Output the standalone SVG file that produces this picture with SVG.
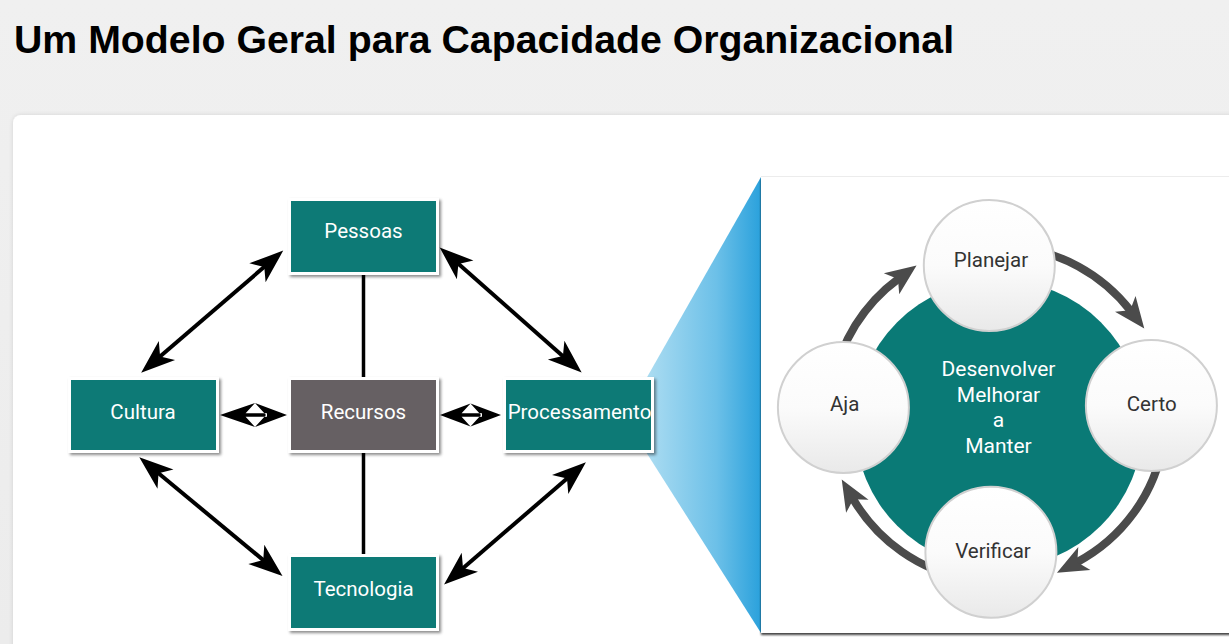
<svg xmlns="http://www.w3.org/2000/svg" width="1229" height="644" viewBox="0 0 1229 644">
<defs>
<style>
.box{stroke:#fff;stroke-width:3;filter:url(#sh)}
.teal{fill:#0a7a76}
.grey{fill:#666163}
.bt{font-family:Roboto,"Liberation Sans",sans-serif;font-size:20.5px;fill:#fff;text-anchor:middle}
.ct{font-family:Roboto,"Liberation Sans",sans-serif;font-size:20.5px;fill:#333;text-anchor:middle}
.mid{font-family:Roboto,"Liberation Sans",sans-serif;font-size:21px;fill:#fff;text-anchor:middle}
.blk{stroke:#000;stroke-width:4;fill:none;marker-start:url(#ah);marker-end:url(#ah)}
.hd{fill:#000}
.vl{stroke:#000;stroke-width:3.5}
.cyc{stroke:#4b4b4b;stroke-width:8;fill:none;marker-end:url(#gh)}
.circ{fill:url(#cg);stroke:#d0d0d0;stroke-width:2}
</style>
<filter id="sh" x="-10%" y="-10%" width="125%" height="130%"><feDropShadow dx="2" dy="2" stdDeviation="1.5" flood-color="#000" flood-opacity="0.45"/></filter>
<filter id="psh" x="-5%" y="-5%" width="110%" height="110%"><feDropShadow dx="0" dy="0" stdDeviation="2" flood-color="#000" flood-opacity="0.12"/></filter>
<filter id="rsh" x="-5%" y="-5%" width="110%" height="110%"><feDropShadow dx="0" dy="2" stdDeviation="1.2" flood-color="#000" flood-opacity="0.75"/></filter>
<linearGradient id="bg" x1="0" y1="0" x2="0" y2="1"><stop offset="0" stop-color="#f0f0f0"/><stop offset="1" stop-color="#ececec"/></linearGradient>
<linearGradient id="blue" gradientUnits="userSpaceOnUse" x1="650" y1="0" x2="761" y2="0"><stop offset="0" stop-color="#a9dbf1"/><stop offset="0.6" stop-color="#6cc0e8"/><stop offset="1" stop-color="#2aa1dc"/></linearGradient>
<linearGradient id="cg" x1="0" y1="0" x2="0" y2="1"><stop offset="0" stop-color="#ffffff"/><stop offset="0.5" stop-color="#fbfbfb"/><stop offset="1" stop-color="#e9e9e9"/></linearGradient>
<marker id="ah" markerUnits="userSpaceOnUse" viewBox="-36 -14 38 28" markerWidth="38" markerHeight="28" refX="-23" refY="0" orient="auto-start-reverse" overflow="visible"><path d="M0,0 L-34,-12.5 L-25,0 L-34,12.5 Z" fill="#000"/></marker>
<marker id="gh" markerUnits="userSpaceOnUse" viewBox="-32 -15 34 30" markerWidth="34" markerHeight="30" refX="-22" refY="0" orient="auto" overflow="visible"><path d="M0,0 L-31,-13 L-23,0 L-31,13 Z" fill="#4b4b4b"/></marker>
</defs>
<rect x="0" y="0" width="1229" height="644" fill="url(#bg)"/>
<text x="14" y="53" font-family="'Liberation Sans',Arial,sans-serif" font-weight="bold" font-size="39.25" fill="#000">Um Modelo Geral para Capacidade Organizacional</text>
<rect x="13" y="115" width="1240" height="560" rx="8" fill="#fff" filter="url(#psh)"/>

<g id="zoom-panel">
<polygon points="761,177 646,379 646,452 761,633" fill="url(#blue)"/>
<rect x="761" y="177" width="480" height="456" fill="#fff" filter="url(#rsh)"/>
<line x1="761" y1="176.5" x2="1229" y2="176.5" stroke="#ececec" stroke-width="1"/>
</g>

<g id="connectors">
<line class="vl" x1="363.5" y1="274" x2="363.5" y2="378"/>
<line class="vl" x1="363.5" y1="452" x2="363.5" y2="556"/>
<line class="blk" x1="265.8" y1="265.6" x2="158.6" y2="357.7"/>
<line class="blk" x1="456.9" y1="262.6" x2="564.4" y2="357.4"/>
<line class="blk" x1="157" y1="472" x2="264.8" y2="561.4"/>
<line class="blk" x1="568.5" y1="477.3" x2="461.5" y2="569.4"/>
<path class="hd" d="M220,415 L255,403 L244,415 L255,427 Z M287,415 L255,403 L266,415 L255,427 Z M243,413.3 H267 V416.7 H243 Z"/>
<path class="hd" d="M440,415 L470.5,403.5 L460,415 L470.5,426.5 Z M501,415 L470.5,403.5 L481,415 L470.5,426.5 Z M459,413.3 H482 V416.7 H459 Z"/>
<path class="cyc" d="M1012.6,246.6 A168,168 0 0 1 1130.8,311"/>
<path class="cyc" d="M1163.4,443.2 A168,168 0 0 1 1076.4,562.6"/>
<path class="cyc" d="M968.8,579.4 A168,168 0 0 1 852.8,498.5"/>
<path class="cyc" d="M832.6,384.8 A168,168 0 0 1 898.8,278.4"/>
</g>

<g id="pessoas"><rect class="box teal" x="289.5" y="199.5" width="148" height="74"/><text class="bt" x="363.5" y="238">Pessoas</text></g>
<g id="cultura"><rect class="box teal" x="69.5" y="378.5" width="148" height="73"/><text class="bt" x="143" y="419">Cultura</text></g>
<g id="recursos"><rect class="box grey" x="289.5" y="378.5" width="148" height="73"/><text class="bt" x="363.5" y="419">Recursos</text></g>
<g id="processamento"><rect class="box teal" x="504.5" y="378.5" width="148" height="73"/><text class="bt" x="579.5" y="419">Processamento</text></g>
<g id="tecnologia"><rect class="box teal" x="289.5" y="555.5" width="148" height="74"/><text class="bt" x="363.5" y="596">Tecnologia</text></g>

<g id="center"><circle cx="999" cy="424" r="144" fill="#0a7a76"/>
<text class="mid" x="998.5" y="376">Desenvolver</text>
<text class="mid" x="998.5" y="401.5">Melhorar</text>
<text class="mid" x="998.5" y="427">a</text>
<text class="mid" x="998.5" y="452.5">Manter</text></g>
<g id="planejar"><circle class="circ" cx="989.3" cy="265.5" r="65.5"/><text class="ct" x="991" y="267">Planejar</text></g>
<g id="certo"><circle class="circ" cx="1151.4" cy="405.5" r="65.5"/><text class="ct" x="1151.7" y="411">Certo</text></g>
<g id="verificar"><circle class="circ" cx="990.9" cy="552.2" r="65.5"/><text class="ct" x="993" y="558">Verificar</text></g>
<g id="aja"><circle class="circ" cx="843.4" cy="407.5" r="65.5"/><text class="ct" x="844.7" y="411">Aja</text></g>
</svg>
